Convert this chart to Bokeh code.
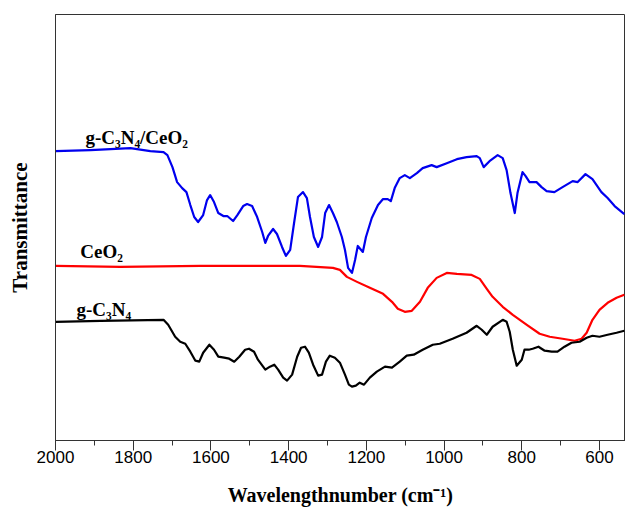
from bokeh.plotting import figure
from bokeh.models import Range1d, FixedTicker, Label
from bokeh.embed import file_html
from bokeh.resources import INLINE

# g-C3N4/CeO2 (blue)
w_comp = [2000, 1910, 1807, 1756, 1722, 1712, 1699, 1687, 1674, 1663, 1653, 1643, 1633, 1620, 1610,
          1602, 1592, 1581, 1568, 1558, 1543, 1532, 1517, 1507, 1494, 1481, 1468, 1460, 1453, 1440,
          1430, 1417, 1407, 1396, 1386, 1376, 1363, 1353, 1345, 1335, 1324, 1314, 1306, 1296, 1286,
          1276, 1263, 1255, 1247, 1237, 1229, 1222, 1209, 1201, 1186, 1170, 1157, 1145, 1137, 1127,
          1114, 1101, 1088, 1070, 1055, 1032, 1019, 993, 967, 942, 916, 908, 898, 883, 862, 849,
          839, 829, 818, 811, 798, 790, 780, 762, 749, 736, 716, 695, 669, 656, 636, 618, 595,
          579, 561, 536]
t_comp = [290, 291, 293, 290, 289, 286, 274, 259, 253, 249, 236, 224, 219, 226, 241,
          246, 239, 228, 225, 225, 220, 226, 235, 237, 235, 224, 209, 198, 205, 212,
          207, 194, 185, 191, 218, 244, 249, 243, 224, 204, 194, 204, 228, 236, 228,
          219, 204, 191, 173, 168, 181, 195, 189, 204, 223, 236, 242, 242, 240, 253,
          263, 266, 263, 268, 273, 276, 274, 278, 282, 284, 285, 283, 274, 280, 286, 283,
          271, 248, 228, 248, 269, 265, 259, 259, 254, 250, 249, 254, 260, 259, 267, 262, 249,
          243, 235, 227]

# CeO2 (red)
w_ceo2 = [2000, 1833, 1627, 1371, 1286, 1268, 1250, 1224, 1191, 1157, 1134, 1119, 1101, 1083,
          1062, 1042, 1019, 993, 967, 929, 908, 890, 875, 849, 823, 787, 754, 728, 695, 664,
          646, 633, 618, 600, 579, 556, 536]
t_ceo2 = [175, 174, 175, 175, 173, 171, 164, 159, 153, 147, 139, 132, 129, 130,
          139, 153, 163, 168, 167, 166, 162, 152, 144, 134, 126, 116, 107, 104, 102, 100,
          102, 108, 121, 131, 138, 143, 146]

# g-C3N4 (black)
w_gcn = [2000, 1884, 1722, 1710, 1692, 1679, 1666, 1653, 1640, 1630, 1620, 1604, 1592, 1581,
         1566, 1553, 1540, 1527, 1512, 1502, 1489, 1479, 1460, 1448, 1437, 1427, 1414, 1404,
         1391, 1378, 1368, 1358, 1348, 1337, 1324, 1314, 1304, 1294, 1281, 1268, 1255, 1245,
         1237, 1227, 1217, 1206, 1191, 1173, 1152, 1134, 1114, 1096, 1078, 1055, 1029, 1011,
         978, 942, 916, 903, 890, 875, 849, 839, 831, 823, 813, 800, 793, 782, 772, 757, 741,
         723, 708, 690, 672, 651, 633, 618, 600, 579, 556, 536]
t_gcn = [119, 120, 121, 116, 104, 99, 97, 89, 80, 79, 88, 96, 91, 84,
         83, 82, 79, 84, 91, 92, 89, 81, 71, 74, 76, 71, 63, 60,
         66, 84, 93, 94, 88, 76, 65, 66, 79, 85, 83, 78, 66, 56,
         54, 55, 58, 56, 63, 69, 74, 73, 79, 85, 86, 91, 96, 97,
         102, 108, 115, 111, 106, 114, 121, 119, 109, 91, 75, 81, 91, 91, 92, 94, 90,
         89, 89, 94, 98, 99, 103, 105, 104, 106, 108, 110]

major_ticks = [2000, 1800, 1600, 1400, 1200, 1000, 800, 600]
minor_ticks = [1900, 1700, 1500, 1300, 1100, 900, 700, 500]

p = figure(width=625, height=508, output_backend="svg", toolbar_location=None,
           x_range=Range1d(2000, 533), y_range=Range1d(0, 427),
           min_border_left=55, min_border_right=0, min_border_top=14, min_border_bottom=67)
p.background_fill_color = "white"
p.border_fill_color = "white"
p.outline_line_color = "#333333"
p.outline_line_width = 1
p.grid.visible = False

p.line(w_comp, t_comp, line_color="#0000ee", line_width=2.2, line_join="round")
p.line(w_ceo2, t_ceo2, line_color="#ff0000", line_width=2.2, line_join="round")
p.line(w_gcn, t_gcn, line_color="#000000", line_width=2.2, line_join="round")

xa = p.xaxis[0]
xa.ticker = FixedTicker(ticks=major_ticks, minor_ticks=minor_ticks)
xa.major_tick_out = 10
xa.major_tick_in = 0
xa.minor_tick_out = 5
xa.minor_tick_in = 0
xa.axis_line_color = "#333333"
xa.major_tick_line_color = "#333333"
xa.minor_tick_line_color = "#333333"
xa.major_label_text_font = "Liberation Sans"
xa.major_label_text_font_size = "17px"
xa.major_label_text_color = "black"
xa.major_label_standoff = 0
xa.axis_label = "Wavelengthnumber (cm\u207b\u00b9)"
xa.axis_label_text_font = "Liberation Serif"
xa.axis_label_text_font_style = "bold"
xa.axis_label_text_font_size = "20px"
xa.axis_label_text_color = "black"
xa.axis_label_standoff = 18

ya = p.yaxis[0]
ya.ticker = FixedTicker(ticks=[])
ya.major_tick_line_color = None
ya.minor_tick_line_color = None
ya.axis_line_color = "#333333"
ya.axis_label = "Transmittance"
ya.axis_label_text_font = "Liberation Serif"
ya.axis_label_text_font_style = "bold"
ya.axis_label_text_font_size = "21px"
ya.axis_label_text_color = "black"
ya.axis_label_standoff = 24

def add_label(x, y, text):
    p.add_layout(Label(x=x, y=y, text=text, text_font="Liberation Serif",
                       text_font_style="bold", text_font_size="19px",
                       text_color="black", text_baseline="alphabetic"))

add_label(1923, 304, "g-C\u2083N\u2084/CeO\u2082")
add_label(1936, 189, "CeO\u2082")
add_label(1946, 131, "g-C\u2083N\u2084")

open("out.html", "w").write(file_html(p, INLINE))
